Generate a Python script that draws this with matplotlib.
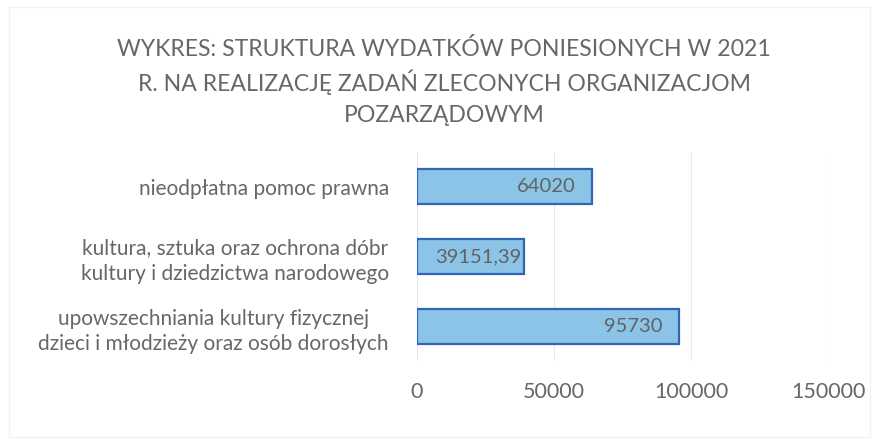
import matplotlib.pyplot as plt
from matplotlib.patches import Rectangle

# data (bottom to top, as drawn)
categories = [
    'upowszechniania kultury fizycznej\ndzieci i młodzieży oraz osób dorosłych',
    'kultura, sztuka oraz ochrona dóbr\nkultury i dziedzictwa narodowego',
    'nieodpłatna pomoc prawna',
]
values = [95730, 39151.39, 64020]
value_labels = ['95730', '39151,39', '64020']
x_ticks = [0, 50000, 100000, 150000]
title_lines = [
    'WYKRES: STRUKTURA WYDATKÓW PONIESIONYCH W 2021',
    'R. NA REALIZACJĘ ZADAŃ ZLECONYCH ORGANIZACJOM',
    'POZARZĄDOWYM',
]

plt.rcParams['font.family'] = ['Lato', 'DejaVu Sans']
text_col = '#676767'

fig = plt.figure(figsize=(8.83, 4.46), dpi=100)
ax = fig.add_axes([0.472, 0.1895, 0.466, 0.4705])

ypos = range(len(categories))
bars = ax.barh(ypos, values, height=0.5, color='#8bc4e6', edgecolor='#3065b8', linewidth=1.6)

ax.set_xlim(0, 150000)
ax.set_ylim(-0.5, 2.5)
ax.set_xticks(x_ticks)
ax.set_xticklabels([str(t) for t in x_ticks])
ax.set_yticks(list(ypos))
ax.set_yticklabels(categories, linespacing=1.35, multialignment='center')
ax.tick_params(axis='x', length=0, pad=15, labelsize=15.5, labelcolor=text_col)
ax.tick_params(axis='y', length=0, pad=20, labelsize=15, labelcolor=text_col)

ax.grid(axis='x', color='#e8e8e8', linewidth=0.8)
ax.set_axisbelow(True)
for s in ax.spines.values():
    s.set_visible(False)

# value labels: inside end like Excel, centred when the bar is too short for padding
renderer = fig.canvas.get_renderer()
pad = 6000
for b, lab in zip(bars, value_labels):
    yc = b.get_y() + b.get_height() / 2
    t = ax.text(b.get_width() - pad, yc, lab, ha='right', va='center',
                fontsize=14.5, color='#626262')
    bb = t.get_window_extent(renderer).transformed(ax.transData.inverted())
    if bb.x0 < pad / 2:
        t.set_x(b.get_width() / 2 + 3000)
        t.set_ha('center')

# title, one line at a time so the spacing stays even
for i, line in enumerate(title_lines):
    fig.text(0.503, 0.890 - i * 0.075, line, ha='center', va='center',
             fontsize=16.6, color=text_col)

# faint chart frame
fig.patches.append(Rectangle((0.01, 0.02), 0.975, 0.965, transform=fig.transFigure,
                             fill=False, edgecolor='#f0f0f0', linewidth=0.8))

fig.savefig('out.png', dpi=100)
